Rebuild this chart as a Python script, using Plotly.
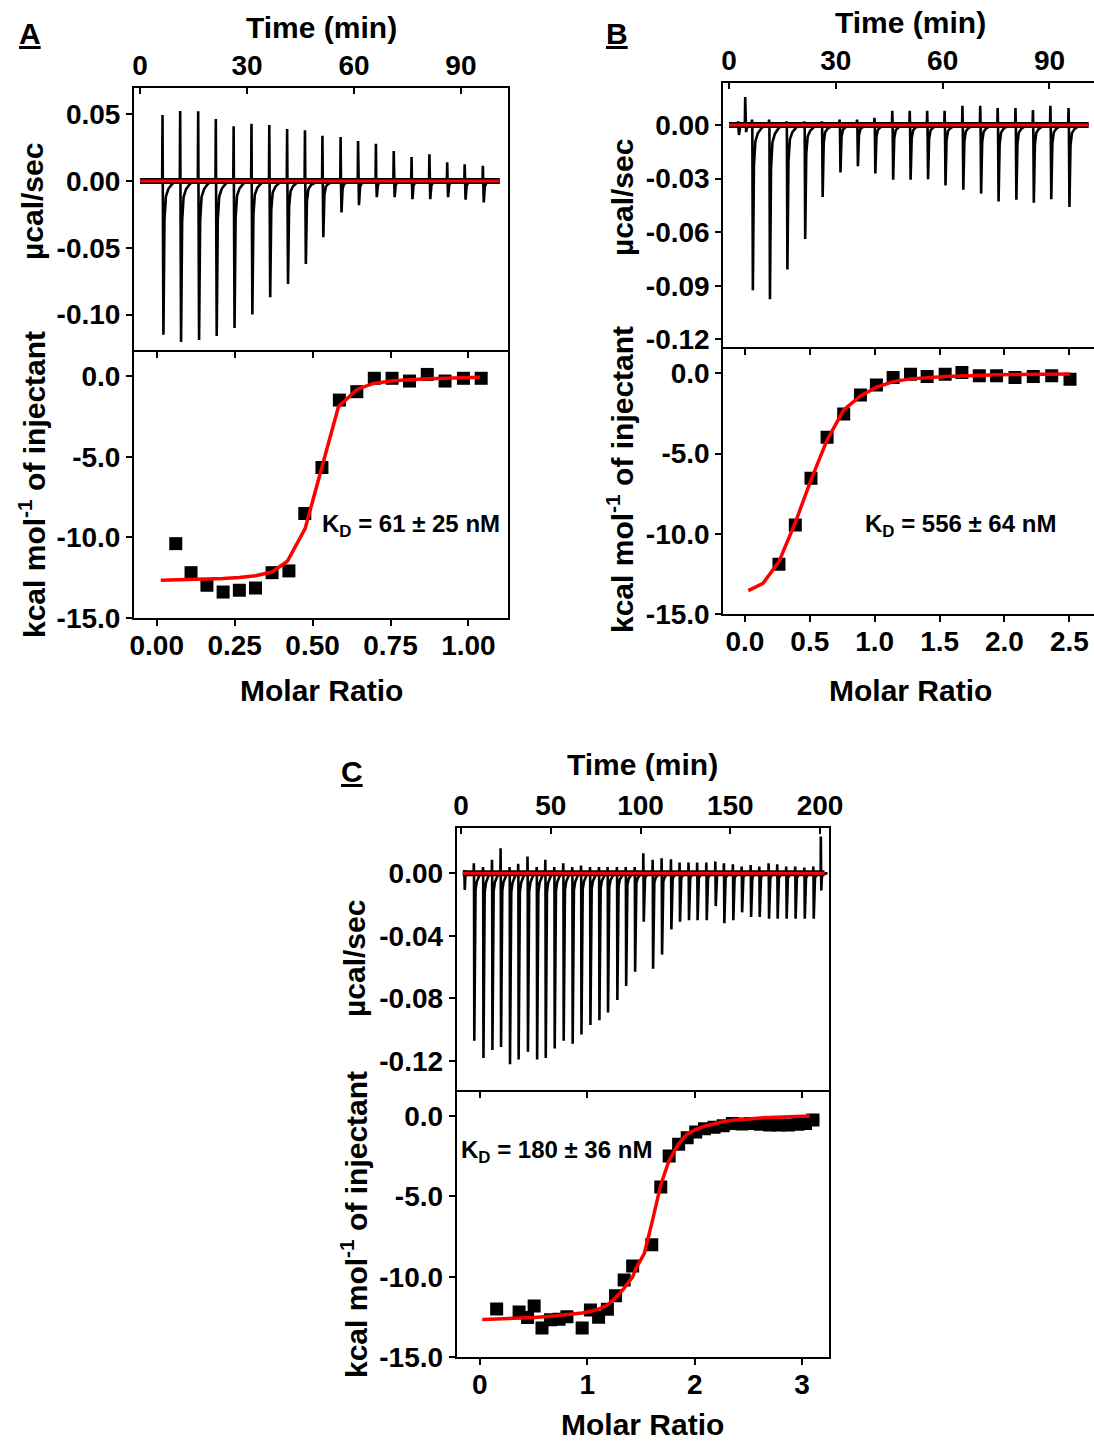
import plotly.graph_objects as go

W, H = 1094, 1441

# ---------------- data ----------------
# Panel A : raw thermogram (injection time, upward tip, downward tip)
A_inj_time = [6.35, 11.3, 16.35, 21.3, 26.3, 31.3, 36.3, 41.3, 46.3, 51.2, 56.3, 61.2,
              66.2, 71.2, 76.2, 81.2, 86.2, 91.1, 96.2]
A_up = [0.0495, 0.0525, 0.0523, 0.0465, 0.041, 0.043, 0.042, 0.039, 0.038, 0.034,
        0.033, 0.030, 0.028, 0.0225, 0.018, 0.020, 0.014, 0.0125, 0.0115]
A_down = [-0.115, -0.1205, -0.119, -0.116, -0.110, -0.100, -0.087, -0.077, -0.062,
          -0.042, -0.0235, -0.018, -0.012, -0.012, -0.0135, -0.0135, -0.012, -0.014, -0.016]
A_time_span = [0.0, 100.9]
# Panel A : integrated heats
A_ratio = [0.061, 0.110, 0.161, 0.213, 0.265, 0.317, 0.370, 0.424, 0.475, 0.530,
           0.586, 0.642, 0.698, 0.755, 0.811, 0.868, 0.925, 0.984, 1.041]
A_heat = [-10.39, -12.19, -12.97, -13.39, -13.28, -13.14, -12.19, -12.08, -8.52, -5.67,
          -1.49, -0.97, -0.14, -0.14, -0.31, 0.10, -0.31, -0.14, -0.14]
A_fit_ratio = [0.013, 0.061, 0.110, 0.161, 0.213, 0.265, 0.317, 0.370, 0.419, 0.476,
               0.530, 0.583, 0.642, 0.695, 0.759, 0.811, 0.868, 0.925, 0.984, 1.037]
A_fit_heat = [-12.66, -12.64, -12.62, -12.59, -12.55, -12.49, -12.38, -12.15, -11.48,
              -9.46, -5.7, -1.9, -0.83, -0.46, -0.29, -0.22, -0.17, -0.13, -0.10, -0.08]

# Panel B : raw thermogram
B_inj_time = [2.6, 4.6, 6.5, 11.3, 16.2, 21.2, 26.1, 31.1, 36.0, 40.9, 45.9, 50.8, 55.7,
              60.6, 65.6, 70.6, 75.5, 80.5, 85.4, 90.3, 95.4]
B_up = [0.002, 0.0156, 0.003, 0.003, 0.002, 0.002, 0.002, 0.003, 0.003, 0.004, 0.0079,
        0.0079, 0.0079, 0.0079, 0.0107, 0.0107, 0.0094, 0.0094, 0.0084, 0.0107, 0.0094]
B_down = [-0.0056, -0.004, -0.0924, -0.0975, -0.0808, -0.0638, -0.0403, -0.0266, -0.0231,
          -0.0272, -0.0306, -0.0306, -0.0304, -0.0338, -0.0362, -0.0384, -0.0428, -0.0418,
          -0.0435, -0.0416, -0.0459]
B_time_span = [0.0, 101.0]
# Panel B : integrated heats
B_ratio = [0.262, 0.388, 0.509, 0.633, 0.761, 0.890, 1.013, 1.142, 1.276, 1.404, 1.543,
           1.672, 1.806, 1.939, 2.081, 2.222, 2.364, 2.505]
B_heat = [-11.89, -9.44, -6.54, -3.98, -2.53, -1.35, -0.73, -0.27, -0.06, -0.21, -0.06,
          0.04, -0.15, -0.15, -0.27, -0.21, -0.15, -0.37]
B_fit_ratio = [0.026, 0.139, 0.262, 0.388, 0.509, 0.633, 0.761, 0.890, 1.013, 1.142,
               1.276, 1.404, 1.543, 1.672, 1.806, 1.939, 2.081, 2.222, 2.364, 2.505]
B_fit_heat = [-13.53, -13.07, -11.72, -9.29, -6.64, -4.15, -2.28, -1.41, -0.87, -0.52,
              -0.35, -0.27, -0.21, -0.17, -0.12, -0.10, -0.08, -0.06, -0.06, -0.04]

# Panel C : raw thermogram
C_inj_time = [1.9, 7.2, 12.3, 17.3, 22.1, 27.1, 31.9, 37.1, 42.2, 47.0, 52.0, 57.0, 62.0,
              66.9, 71.9, 76.9, 81.7, 86.9, 91.8, 96.8, 101.6, 106.8, 111.8, 117.0, 121.8,
              126.8, 131.6, 136.7, 141.7, 146.5, 151.5, 156.4, 161.4, 166.2, 171.4, 176.2,
              181.2, 186.2, 191.3, 196.3, 200.5]
C_up = [0.002, 0.0064, 0.004, 0.0086, 0.016, 0.004, 0.006, 0.0107, 0.004, 0.0086, 0.004,
        0.0064, 0.004, 0.005, 0.004, 0.004, 0.004, 0.004, 0.004, 0.004, 0.0128, 0.0086,
        0.0096, 0.009, 0.0068, 0.0068, 0.0068, 0.0068, 0.0075, 0.0064, 0.0058, 0.0043,
        0.0053, 0.0043, 0.0064, 0.0058, 0.0043, 0.0043, 0.0036, 0.0043, 0.0235]
C_down = [-0.0107, -0.107, -0.118, -0.113, -0.111, -0.122, -0.119, -0.114, -0.119, -0.118,
          -0.112, -0.107, -0.109, -0.103, -0.097, -0.094, -0.089, -0.081, -0.072, -0.063,
          -0.031, -0.061, -0.052, -0.036, -0.031, -0.030, -0.030, -0.030, -0.021, -0.032,
          -0.030, -0.025, -0.028, -0.028, -0.029, -0.029, -0.029, -0.029, -0.029, -0.029,
          -0.011]
C_time_span = [1.0, 202.5]
# Panel C : integrated heats
C_ratio = [0.156, 0.365, 0.444, 0.505, 0.578, 0.657, 0.737, 0.810, 0.952, 1.029, 1.105,
           1.187, 1.263, 1.343, 1.422, 1.600, 1.684, 1.762, 1.850, 1.930, 2.009, 2.090,
           2.180, 2.265, 2.350, 2.440, 2.522, 2.611, 2.697, 2.783, 2.872, 2.961, 3.031, 3.101]
C_heat = [-12.0, -12.18, -12.52, -11.81, -13.18, -12.66, -12.64, -12.48, -13.18, -12.06,
          -12.51, -12.02, -11.18, -10.19, -9.32, -8.0, -4.41, -2.48, -1.76, -1.36, -1.0,
          -0.8, -0.7, -0.6, -0.46, -0.5, -0.46, -0.52, -0.56, -0.56, -0.56, -0.52, -0.46, -0.25]
C_fit_ratio = [0.022, 0.156, 0.365, 0.505, 0.657, 0.810, 0.952, 1.029, 1.105, 1.187, 1.263,
               1.343, 1.422, 1.451, 1.530, 1.603, 1.683, 1.759, 1.848, 1.927, 2.006, 2.086,
               2.165, 2.244, 2.356, 2.442, 2.522, 2.611, 2.697, 2.783, 2.872, 2.961, 3.070]
C_fit_heat = [-12.65, -12.62, -12.57, -12.52, -12.45, -12.37, -12.25, -12.15, -12.0, -11.75,
              -11.3, -10.7, -10.0, -9.5, -8.55, -6.6, -4.3, -2.8, -1.75, -1.15, -0.85, -0.65,
              -0.5, -0.38, -0.27, -0.21, -0.16, -0.12, -0.09, -0.07, -0.05, -0.03, 0.0]

KD_text = ["K<sub>D</sub> = 61 ± 25 nM", "K<sub>D</sub> = 556 ± 64 nM", "K<sub>D</sub> = 180 ± 36 nM"]

# ---------------- style ----------------
FONT = "Liberation Sans, Arial, sans-serif"
TICK = dict(family=FONT, size=28, color="black", weight="bold")
TITLE_SIZE = 30
# spike shape template: time offsets after injection and fraction of tip depth
SPIKE_DT = [-0.15, -0.05, 0.05, 0.2, 0.5, 0.9, 1.6, 2.6, 3.6]
TAIL_FRAC = [1.0, 0.25, 0.1, 0.05, 0.02, 0.0]


def thermogram(times, ups, downs, span):
    xs, ys = [span[0]], [0.0]
    for t, u, d in zip(times, ups, downs):
        xs += [t + dt for dt in SPIKE_DT]
        ys += [0.0, u, 0.0] + [d * f for f in TAIL_FRAC]
    xs.append(span[1])
    ys.append(0.0)
    return xs, ys


def px(x):
    return x / W


def py(y):
    return 1 - y / H


fig = go.Figure()

panels = [
    dict(raw=(A_inj_time, A_up, A_down, A_time_span), heat=(A_ratio, A_heat),
         fit=(A_fit_ratio, A_fit_heat), xt="x", yt="y", xb="x2", yb="y2", xo="x7"),
    dict(raw=(B_inj_time, B_up, B_down, B_time_span), heat=(B_ratio, B_heat),
         fit=(B_fit_ratio, B_fit_heat), xt="x3", yt="y3", xb="x4", yb="y4", xo="x8"),
    dict(raw=(C_inj_time, C_up, C_down, C_time_span), heat=(C_ratio, C_heat),
         fit=(C_fit_ratio, C_fit_heat), xt="x5", yt="y5", xb="x6", yb="y6", xo="x9"),
]

for p in panels:
    t, u, d, span = p["raw"]
    xs, ys = thermogram(t, u, d, span)
    fig.add_trace(go.Scatter(x=span, y=[0, 0], mode="lines", line=dict(color="black", width=6),
                             xaxis=p["xt"], yaxis=p["yt"], showlegend=False, hoverinfo="skip"))
    fig.add_trace(go.Scatter(x=xs, y=ys, mode="lines", line=dict(color="black", width=2.6),
                             xaxis=p["xt"], yaxis=p["yt"], showlegend=False))
    fig.add_trace(go.Scatter(x=span, y=[0, 0], mode="lines", line=dict(color="#ff0000", width=3),
                             xaxis=p["xt"], yaxis=p["yt"], showlegend=False))
    fig.add_trace(go.Scatter(x=p["heat"][0], y=p["heat"][1], mode="markers",
                             marker=dict(symbol="square", size=13, color="black"),
                             xaxis=p["xb"], yaxis=p["yb"], showlegend=False))
    fig.add_trace(go.Scatter(x=p["fit"][0], y=p["fit"][1], mode="lines",
                             line=dict(color="#ff0000", width=3.5),
                             xaxis=p["xb"], yaxis=p["yb"], showlegend=False))
    fig.add_trace(go.Scatter(x=[None], y=[None], xaxis=p["xo"], yaxis=p["yb"],
                             showlegend=False, hoverinfo="skip"))

# geometry (pixels)
geo = {
    "A": dict(x0=134, x1=508, t0=88, mid=352, b=618,
              trange=[-1.7, 103.2], urange=[-0.128, 0.0697], rrange=[-0.073, 1.127],
              hrange=[-15.0, 1.49],
              tt=[0, 30, 60, 90], ut=[0.05, 0.0, -0.05, -0.10], ul=["0.05", "0.00", "-0.05", "-0.10"],
              rt=[0, 0.25, 0.5, 0.75, 1.0], rl=["0.00", "0.25", "0.50", "0.75", "1.00"]),
    "B": dict(x0=723.3, x1=1094, t0=83.3, mid=349.3, b=614.3,
              trange=[-1.6, 102.5], urange=[-0.1255, 0.0233], rrange=[-0.167, 2.69],
              hrange=[-15.0, 1.49],
              tt=[0, 30, 60, 90], ut=[0.0, -0.03, -0.06, -0.09, -0.12],
              ul=["0.00", "-0.03", "-0.06", "-0.09", "-0.12"],
              rt=[0, 0.5, 1.0, 1.5, 2.0, 2.5], rl=["0.0", "0.5", "1.0", "1.5", "2.0", "2.5"]),
    "C": dict(x0=456.7, x1=829, t0=827.7, mid=1091.7, b=1357.3,
              trange=[-2.4, 205], urange=[-0.1396, 0.0291], rrange=[-0.216, 3.25],
              hrange=[-15.0, 1.51],
              tt=[0, 50, 100, 150, 200], ut=[0.0, -0.04, -0.08, -0.12],
              ul=["0.00", "-0.04", "-0.08", "-0.12"],
              rt=[0, 1, 2, 3], rl=["0", "1", "2", "3"]),
}

hl = ["0.0", "-5.0", "-10.0", "-15.0"]
hv = [0, -5, -10, -15]
common = dict(showline=True, linecolor="black", linewidth=2, tickcolor="black", tickwidth=2,
              ticklen=6, tickfont=TICK, showgrid=False, zeroline=False, tickmode="array",
              automargin=False)

layout = {}
names = [("A", "xaxis", "yaxis", "xaxis2", "yaxis2", "xaxis7"),
         ("B", "xaxis3", "yaxis3", "xaxis4", "yaxis4", "xaxis8"),
         ("C", "xaxis5", "yaxis5", "xaxis6", "yaxis6", "xaxis9")]
for key, xt, yt, xb, yb, xo in names:
    g = geo[key]
    xd = [px(g["x0"]), min(1.0, px(g["x1"]))]
    dt = [py(g["mid"]), py(g["t0"])]
    db = [py(g["b"]), py(g["mid"])]
    yt_id = yt.replace("axis", "")
    yb_id = yb.replace("axis", "")
    xb_id = xb.replace("axis", "")
    xt_id = xt.replace("axis", "")
    layout[xt] = dict(common, domain=xd, range=g["trange"], side="top", ticks="inside",
                      mirror=False, anchor=yt_id, tickvals=g["tt"],
                      ticktext=[str(v) for v in g["tt"]])
    layout[yt] = dict(common, domain=dt, range=g["urange"], ticks="outside", mirror=True,
                      anchor=xt_id, tickvals=g["ut"], ticktext=g["ul"])
    layout[xb] = dict(common, domain=xd, range=g["rrange"], side="bottom", ticks="outside",
                      mirror=True, anchor=yb_id, tickvals=g["rt"], ticktext=g["rl"],
                      ticklabelstandoff=-5)
    layout[yb] = dict(common, domain=db, range=g["hrange"], ticks="outside", mirror=True,
                      anchor=xb_id, tickvals=hv, ticktext=hl)
    layout[xo] = dict(common, domain=xd, range=g["rrange"], side="top", ticks="inside",
                      overlaying=xb_id, anchor=yb_id, tickvals=g["rt"], showticklabels=False,
                      showline=False)

fig.update_layout(width=W, height=H, autosize=False,
                  margin=dict(l=0, r=0, t=0, b=0, pad=0, autoexpand=False),
                  paper_bgcolor="white", plot_bgcolor="white", showlegend=False,
                  font=dict(family=FONT, color="black"), **layout)


def label(text, x, y, size=TITLE_SIZE, angle=0, xanchor="center"):
    fig.add_annotation(text=text, x=px(x), y=py(y), xref="paper", yref="paper",
                       showarrow=False, textangle=angle, xanchor=xanchor, yanchor="middle",
                       font=dict(family=FONT, size=size, color="black", weight="bold"))


# titles
for (tx, ty), (mx, my), (ux, uy), (kx, ky) in [
        ((321, 28), (321, 690), (32, 202), (32, 485)),
        ((910, 22), (910, 690), (622, 198), (620, 480)),
        ((642, 765), (642, 1424), (354, 959), (354, 1225))]:
    label("Time (min)", tx, ty)
    label("Molar Ratio", mx, my)
    label("µcal/sec", ux, uy, angle=-90)
    label("kcal mol<sup>-1</sup> of injectant", kx, ky, angle=-90)

label(KD_text[0], 320, 526, size=24, xanchor="left")
label(KD_text[1], 863, 526, size=24, xanchor="left")
label(KD_text[2], 459, 1151, size=24, xanchor="left")

label("<u>A</u>", 30, 33)
label("<u>B</u>", 617, 33)
label("<u>C</u>", 352, 771)

fig.write_html("out.html", config={"responsive": False},
               post_script="document.documentElement.style.margin='0';"
                           "document.body.style.margin='0';"
                           "document.body.style.padding='0';"
                           "document.documentElement.style.overflow='hidden';"
                           "document.body.style.overflow='hidden';")
